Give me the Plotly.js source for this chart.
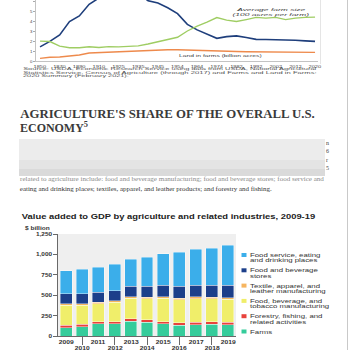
<!DOCTYPE html>
<html><head><meta charset="utf-8">
<script src="https://cdn.plot.ly/plotly-3.0.1.min.js"></script>
<style>html,body{margin:0;padding:0;background:#fff;}#gd{width:350px;height:350px;}</style>
</head><body><div id="gd"></div>
<script>
// ---------- data: farms chart (top) ----------
const censusYears = ['1850','1860','1870','1880','1890','1900','1910','1920','1925','1930','1935','1940','1945','1950','1954','1959','1964','1969','1974','1978','1982','1987','1992','1997','2002','2007','2012','2017','2020'];
const farmsMillions = [1.45,2.0,2.66,4.0,4.56,5.74,6.37,6.45,6.37,6.29,6.81,6.1,5.86,5.39,4.8,3.72,3.16,2.7,2.31,2.48,2.56,2.4,2.21,2.2,2.17,2.2,2.12,2.06,2.01];
const farmSize100 = [2.03,1.99,1.53,1.36,1.37,1.47,1.39,1.48,1.45,1.52,1.55,1.74,1.95,2.15,2.42,3.05,3.55,3.95,4.4,4.15,4.0,4.2,4.42,4.35,4.42,4.2,4.35,4.42,4.45];
const landBillion = [0.29,0.41,0.44,0.56,0.64,0.84,0.88,0.96,0.93,0.99,1.05,1.06,1.14,1.16,1.16,1.12,1.11,1.06,1.02,1.01,0.99,0.96,0.95,0.95,0.94,0.92,0.91,0.9,0.9];
const topTickYears = ['1850','1870','1890','1910','1925','1935','1945','1954','1964','1974','1982','1992','2002','2012','2020'];
const topYTicks = [0,1,2,3,4,5,6];
const sourceLines = ['Source: USDA, Economic Research Service using data from USDA, National Agricultural','Statistics Service, Census of Agriculture (through 2017) and Farms and Land in Farms:','2020 Summary (February 2021).'];

// ---------- data: value added chart (bottom) ----------
const years = ['2009','2010','2011','2012','2013','2014','2015','2016','2017','2018','2019'];
const farms        = [100,115,148,148,180,168,148,131,139,144,135];
const forestry     = [33,28,28,28,33,29,28,33,29,28,33];
const foodMfg      = [245,231,218,238,250,258,287,283,291,283,283];
const textile      = [20,20,20,16,21,21,21,16,21,17,16];
const foodStores   = [122,126,123,123,123,131,135,144,139,147,156];
const foodService  = [280,296,308,328,336,356,390,418,443,459,488];
const seriesNames = ['Farms','Forestry, fishing, and|related activities','Food, beverage, and|tobacco manufacturing','Textile, apparel, and|leather manufacturing','Food and beverage|stores','Food service, eating|and drinking places'];
const seriesColors = ['#35cc9b','#e8423c','#f0ee6a','#f6b560','#1c3f8a','#3baeea'];
const barYTicks = [0,250,500,750,1000,1250];

const P = v => v/350;            // px -> paper x
const Q = v => 1 - v/350;        // px -> paper y

const data = [
  {x:censusYears, y:farmsMillions, type:'scatter', mode:'lines', line:{color:'#1f3f7c', width:1.6}, xaxis:'x', yaxis:'y'},
  {x:censusYears, y:farmSize100, type:'scatter', mode:'lines', line:{color:'#9fcd63', width:1.4}, xaxis:'x', yaxis:'y'},
  {x:censusYears, y:landBillion, type:'scatter', mode:'lines', line:{color:'#ee8a4c', width:1.4}, xaxis:'x', yaxis:'y'}
];
const seriesVals = [farms, forestry, foodMfg, textile, foodStores, foodService];
seriesVals.forEach((vals,i)=>{
  data.push({x:years, y:vals, type:'bar', name:seriesNames[i].replace('|',' '), marker:{color:seriesColors[i], line:{color:'#ffffff', width:0.4}}, xaxis:'x2', yaxis:'y2'});
});

const annotations = [];
const stretches = [];
function ann(o, st){ const a = Object.assign({showarrow:false, xref:'paper', yref:'paper', borderpad:0, borderwidth:0}, o); if(st){stretches.push(Object.assign({i:annotations.length}, st));} annotations.push(a); }

// top chart labels
ann({x:P(271), y:Q(9.3), xanchor:'center', yanchor:'middle', text:'<i>Average farm size</i>', font:{family:'Liberation Sans', size:4, color:'#444'}}, {w:72, anchor:'center'});
ann({x:P(271), y:Q(14), xanchor:'center', yanchor:'middle', text:'<i>(100 acres per farm)</i>', font:{family:'Liberation Sans', size:4, color:'#444'}}, {w:78, anchor:'center'});
ann({x:P(221), y:Q(55), xanchor:'center', yanchor:'middle', text:'Land in farms (billion acres)', font:{family:'Liberation Sans', size:4, color:'#444'}}, {w:84, anchor:'center'});
const srcW = [294, 294, 106];
sourceLines.forEach((t,i)=>{
  ann({x:P(23), y:Q(69.3 + i*3.35), xanchor:'left', yanchor:'middle', text:t, font:{family:'Liberation Sans', size:3.3, color:'#555'}}, {w:srcW[i], anchor:'left'});
});

// document heading and text
ann({x:P(20), y:Q(113.5), xanchor:'left', yanchor:'middle', text:"AGRICULTURE'S SHARE OF THE OVERALL U.S.", font:{family:'Liberation Serif', size:12.5, color:'#3a3a3a', weight:700}}, {w:295, anchor:'left'});
ann({x:P(20), y:Q(127), xanchor:'left', yanchor:'middle', text:"ECONOMY<sup>5</sup>", font:{family:'Liberation Serif', size:12, color:'#3a3a3a', weight:700}}, {w:68, anchor:'left'});
const marginChars = ['n','6','r','5'];
marginChars.forEach((c,i)=>{
  ann({x:P(326), y:Q(143.3 + i*8.1), xanchor:'left', yanchor:'middle', text:c, font:{family:'Liberation Serif', size:6, color:'#444'}});
});
ann({x:P(20), y:Q(178.6), xanchor:'left', yanchor:'middle', text:'related to agriculture include: food and beverage manufacturing; food and beverage stores; food service and', font:{family:'Liberation Serif', size:6.2, color:'#8a8a8a'}}, {w:305, anchor:'left'});
ann({x:P(20), y:Q(188.3), xanchor:'left', yanchor:'middle', text:'eating and drinking places; textiles, apparel, and leather products; and forestry and fishing.', font:{family:'Liberation Serif', size:6.2, color:'#333'}}, {w:252, anchor:'left'});

// bar chart title
ann({x:P(22), y:Q(216.7), xanchor:'left', yanchor:'middle', text:'<b>Value added to GDP by agriculture and related industries, 2009-19</b>', font:{family:'Liberation Sans', size:7.2, color:'#222'}}, {w:293, anchor:'left'});
ann({x:P(25), y:Q(228.3), xanchor:'left', yanchor:'middle', text:'<b>$ billion</b>', font:{family:'Liberation Sans', size:4.6, color:'#333'}}, {w:25, anchor:'left'});

// bar x labels (two staggered rows), positioned by category index on x2
years.forEach((yr,i)=>{
  ann({x:i, xref:'x2', y:Q(i%2===0 ? 341.8 : 347.6), xanchor:'center', yanchor:'middle', text:'<b>'+yr+'</b>', font:{family:'Liberation Sans', size:5.6, color:'#333'}}, {sx:1.2, anchor:'center'});
});

// legend (manual)
const shapes = [];
for(let k=0;k<seriesNames.length;k++){
  const idx = seriesNames.length-1-k;
  const yc = 255 + k*15.3;
  shapes.push({type:'rect', xref:'paper', yref:'paper', x0:P(241.5), x1:P(246.5), y0:Q(yc+2), y1:Q(yc-2), fillcolor:seriesColors[idx], line:{width:0}});
  seriesNames[idx].split('|').forEach((ln,j)=>{
    ann({x:P(250), y:Q(yc + j*5.3), xanchor:'left', yanchor:'middle', text:ln, font:{family:'Liberation Sans', size:5.4, color:'#333'}}, {sx:1.45, anchor:'left'});
  });
}

// bar plot background
shapes.push({type:'rect', xref:'x2 domain', yref:'y2 domain', x0:0, x1:1, y0:0, y1:1, fillcolor:'#efefef', line:{width:0}, layer:'below'});
// blurred paragraph block
shapes.push({type:'rect', xref:'paper', yref:'paper', x0:P(19), x1:P(325), y0:Q(176), y1:Q(139), fillcolor:'#ececec', line:{width:0}});
shapes.push({type:'rect', xref:'paper', yref:'paper', x0:P(19), x1:P(325), y0:Q(176), y1:Q(160), fillcolor:'#e4e4e4', line:{width:0}});
shapes.push({type:'rect', xref:'paper', yref:'paper', x0:P(19), x1:P(325), y0:Q(176), y1:Q(169), fillcolor:'#dadada', line:{width:0}});
// page border and top figure frame
shapes.push({type:'line', xref:'paper', yref:'paper', x0:P(347.5), x1:P(347.5), y0:0, y1:1, line:{color:'#c9c9c9', width:1}});
shapes.push({type:'line', xref:'paper', yref:'paper', x0:P(320.5), x1:P(320.5), y0:Q(64), y1:1, line:{color:'#dedede', width:0.8}});

const layout = {
  width:350, height:350, margin:{l:0,r:0,t:0,b:0},
  paper_bgcolor:'#ffffff', plot_bgcolor:'rgba(0,0,0,0)',
  showlegend:false, barmode:'stack', bargap:0.26,
  xaxis:{type:'category', domain:[P(36),P(318)], range:[-0.41,28.3], autorange:false, anchor:'y', tickmode:'array', tickvals:topTickYears, ticktext:topTickYears, tickangle:0,
    tickfont:{family:'Liberation Sans', size:3.9, color:'#444'}, ticks:'', showline:true, linecolor:'#aaa', linewidth:0.7, showgrid:false, zeroline:false, ticklabelstandoff:1},
  yaxis:{domain:[Q(61.3),1], range:[0,6.17], autorange:false, anchor:'x', tickmode:'array', tickvals:topYTicks, tickfont:{family:'Liberation Sans', size:4.3, color:'#444'},
    ticks:'outside', ticklen:2, tickcolor:'#aaa', showline:true, linecolor:'#aaa', linewidth:0.7, showgrid:false, zeroline:false, ticklabelstandoff:0},
  xaxis2:{type:'category', domain:[P(58),P(236)], range:[-0.5,10.5], autorange:false, anchor:'y2', tickmode:'array', tickvals:years.filter((_,i)=>i%2===1), showticklabels:false,
    ticks:'outside', ticklen:8, tickcolor:'#444', tickwidth:0.8, showline:true, linecolor:'#444', linewidth:0.8, showgrid:false, zeroline:false},
  yaxis2:{domain:[Q(336),Q(234)], range:[0,1250], autorange:false, anchor:'x2', tickmode:'array', tickvals:barYTicks, tickformat:',',
    tickfont:{family:'Liberation Sans', size:5.6, color:'#333', weight:700}, ticks:'outside', ticklen:4, tickcolor:'#444', tickwidth:0.8,
    showline:true, linecolor:'#444', linewidth:0.8, showgrid:false, zeroline:false},
  shapes:shapes, annotations:annotations
};

const gd = document.getElementById('gd');
Plotly.newPlot(gd, data, layout, {staticPlot:true, displayModeBar:false}).then(()=>{
  const stretchEl = (el, sx, anchor)=>{
    const bb = el.getBBox();
    const ax = anchor==='left' ? bb.x : anchor==='right' ? bb.x+bb.width : bb.x+bb.width/2;
    el.setAttribute('transform', (el.getAttribute('transform')||'') + ' translate(' + (ax*(1-sx)) + ',0) scale(' + sx + ',1)');
  };
  stretches.forEach(s=>{
    const el = gd.querySelector('.annotation[data-index="'+s.i+'"] text.annotation-text');
    if(!el) return;
    const bb = el.getBBox();
    const sx = s.w ? s.w/bb.width : s.sx;
    stretchEl(el, sx, s.anchor);
  });
  gd.querySelectorAll('.xtick text').forEach(el=>stretchEl(el, 1.45, 'center'));
  gd.querySelectorAll('.y2tick text').forEach(el=>stretchEl(el, 1.15, 'right'));
});
</script>
</body></html>
